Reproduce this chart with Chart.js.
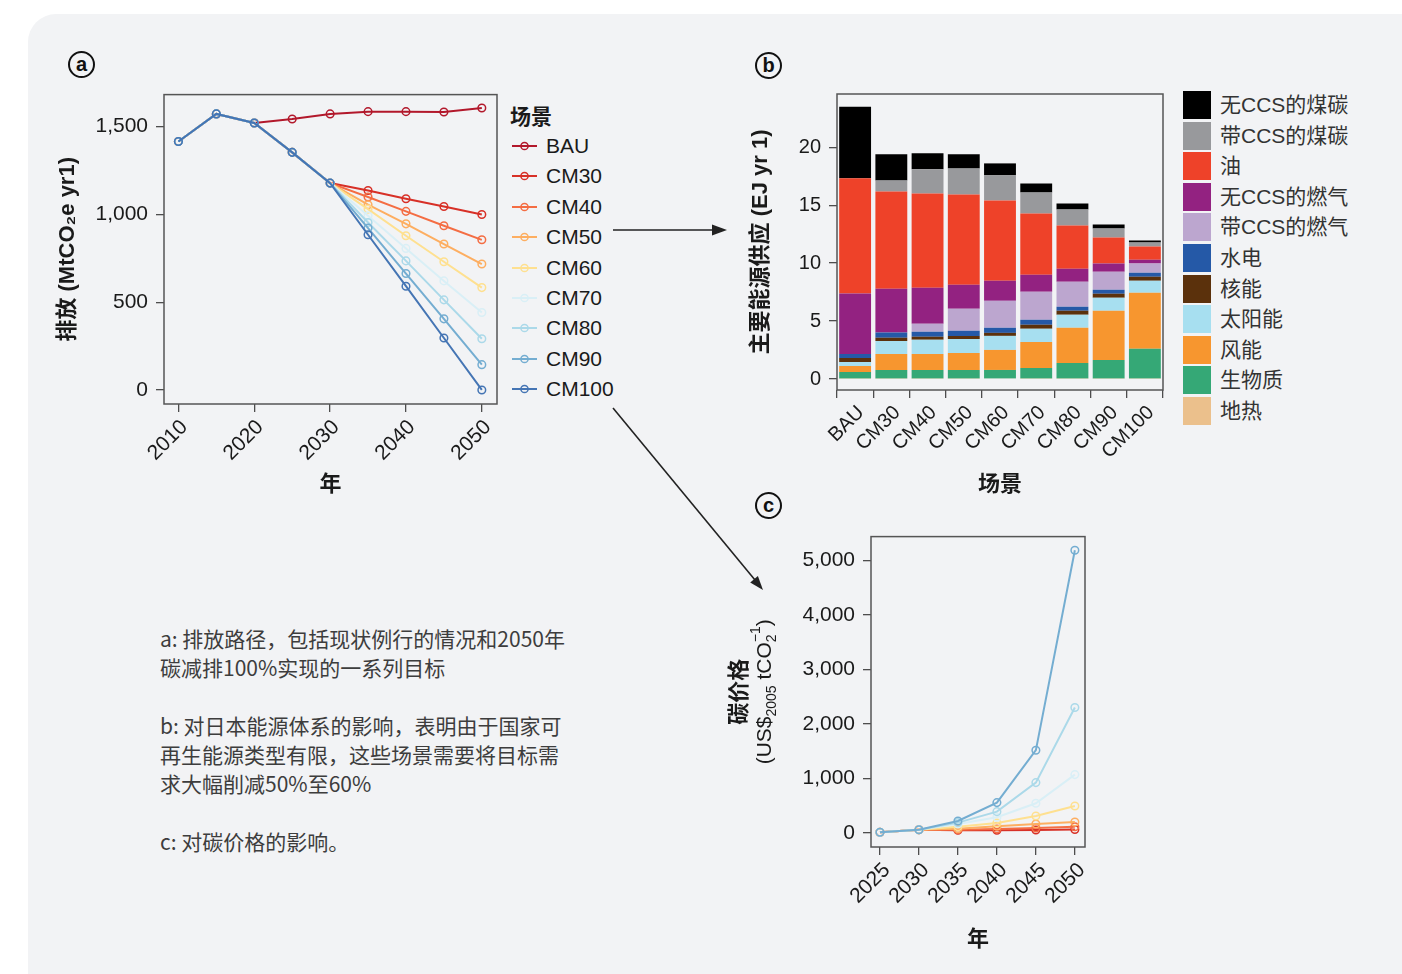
<!DOCTYPE html>
<html>
<head>
<meta charset="utf-8">
<script src="https://cdn.jsdelivr.net/npm/chart.js@4.4.1/dist/chart.umd.min.js"></script>
<style>
body { margin: 0; width: 1402px; height: 974px; overflow: hidden; background: #fff; position: relative;
       font-family: 'Liberation Sans', 'Noto Sans CJK SC', sans-serif; }
#bg { position: absolute; left: 28px; top: 14px; width: 1420px; height: 990px; background: #f2f3f5; border-radius: 28px; }
canvas { position: absolute; }
.tag { position: absolute; width: 23px; height: 23px; border: 2.5px solid #111; border-radius: 50%;
       font: bold 20px 'Liberation Sans', sans-serif; line-height: 22px; text-align: center; color: #111; }
.leg { position: absolute; color: #1a1a1a; white-space: nowrap; }
#notes { position: absolute; left: 160px; top: 624px; font: 21px 'Noto Sans CJK SC', sans-serif; line-height: 29px;
         color: #3d3d3d; white-space: pre; }
svg { position: absolute; left: 0; top: 0; }
</style>
</head>
<body>
<div id="bg"></div>
<div class="tag" style="left:68px;top:51px">a</div>
<div class="tag" style="left:755px;top:52px">b</div>
<div class="tag" style="left:755px;top:492px">c</div>

<canvas id="chartA" width="456" height="428" style="left:51px;top:74px"></canvas>
<canvas id="chartB" width="426" height="428" style="left:744px;top:74px"></canvas>
<canvas id="chartC" width="380" height="441" style="left:720px;top:516px"></canvas>

<div id="legA"></div>
<div id="legB"></div>

<div id="notes">a: 排放路径，包括现状例行的情况和2050年
碳减排100%实现的一系列目标

b: 对日本能源体系的影响，表明由于国家可
再生能源类型有限，这些场景需要将目标需
求大幅削减50%至60%

c: 对碳价格的影响。</div>

<svg width="1402" height="974">
  <line x1="613" y1="230" x2="714" y2="230" stroke="#222" stroke-width="1.6"/>
  <polygon points="727,230 712,224.5 712,235.5" fill="#222"/>
  <line x1="613" y1="408" x2="755" y2="580" stroke="#222" stroke-width="1.6"/>
  <polygon points="763,590 750.2,582.4 757.9,576" fill="#222"/>
</svg>

<script>
// scenarios and colours (shared by panels a and c)
var scenarios = ['BAU', 'CM30', 'CM40', 'CM50', 'CM60', 'CM70', 'CM80', 'CM90', 'CM100'];
var scenColors = ['#b2182b', '#d73027', '#f46d43', '#fdae61', '#fee090', '#d9eff6', '#abd9e9', '#74add1', '#4575b4'];

// panel a: emissions (MtCO2e/yr)
var years = [2010, 2015, 2020, 2025, 2030, 2035, 2040, 2045, 2050];
var emBAU   = [null, null, 1520, 1543, 1572, 1585, 1585, 1583, 1606];
var emCM30  = [1415, 1572, 1520, 1353, 1178, 1136, 1089, 1045, 999];
var emCM40  = [1415, 1572, 1520, 1353, 1178, 1099, 1017, 935, 855];
var emCM50  = [1415, 1572, 1520, 1353, 1178, 1055, 946, 831, 717];
var emCM60  = [1415, 1572, 1520, 1353, 1178, 1030, 878, 730, 583];
var emCM70  = [1415, 1572, 1520, 1353, 1178, 992, 806, 621, 441];
var emCM80  = [1415, 1572, 1520, 1353, 1178, 954, 735, 513, 292];
var emCM90  = [1415, 1572, 1520, 1353, 1178, 922, 663, 405, 144];
var emCM100 = [1415, 1572, 1520, 1353, 1178, 884, 591, 296, 0];
var yearTicks = [2010, 2020, 2030, 2040, 2050];
var emTicks = [0, 500, 1000, 1500];

// panel b: primary energy supply (EJ/yr)
var barCats    = ['BAU', 'CM30', 'CM40', 'CM50', 'CM60', 'CM70', 'CM80', 'CM90', 'CM100'];
var coalNoCCS  = [6.17, 2.25, 1.38, 1.21, 1.03, 0.78, 0.52, 0.34, 0.17];
var coalCCS    = [0, 0.95, 2.08, 2.25, 2.17, 1.81, 1.38, 0.78, 0.35];
var oil        = [9.93, 8.40, 8.14, 7.79, 6.93, 5.29, 3.73, 2.25, 1.13];
var gasNoCCS   = [5.23, 3.78, 3.12, 2.08, 1.73, 1.47, 1.12, 0.70, 0.34];
var gasCCS     = [0, 0, 0.69, 1.90, 2.33, 2.42, 2.17, 1.55, 0.78];
var hydro      = [0.34, 0.46, 0.43, 0.44, 0.44, 0.43, 0.34, 0.35, 0.35];
var nuclear    = [0.35, 0.26, 0.26, 0.26, 0.26, 0.35, 0.35, 0.35, 0.35];
var solar      = [0.34, 1.13, 1.22, 1.21, 1.21, 1.13, 1.12, 1.12, 1.03];
var wind       = [0.52, 1.38, 1.38, 1.47, 1.73, 2.25, 3.03, 4.24, 4.85];
var biomass    = [0.56, 0.73, 0.73, 0.73, 0.73, 0.90, 1.34, 1.60, 2.55];
var geothermal = [0.05, 0.05, 0.05, 0.05, 0.05, 0.05, 0.05, 0.05, 0.05];
var energyTicks = [0, 5, 10, 15, 20];

// panel c: carbon price (US$2005/tCO2)
var priceYears = [2025, 2030, 2035, 2040, 2045, 2050];
var priceCM30 = [15, 60, 50, 52, 55, 65];
var priceCM40 = [15, 60, 61, 74, 92, 116];
var priceCM50 = [15, 60, 80, 123, 165, 202];
var priceCM60 = [15, 60, 116, 184, 312, 496];
var priceCM70 = [15, 60, 165, 288, 545, 1072];
var priceCM80 = [15, 60, 190, 392, 925, 2304];
var priceCM90 = [15, 60, 221, 558, 1520, 5190];
var priceTicks = [0, 1000, 2000, 3000, 4000, 5000];

Chart.defaults.font.family = "'Liberation Sans', 'Noto Sans CJK SC', sans-serif";
Chart.defaults.font.size = 21;
Chart.defaults.color = '#1a1a1a';
Chart.defaults.animation = false;
Chart.defaults.plugins.legend.display = false;
Chart.defaults.plugins.tooltip.enabled = false;

function tickAt(list) {
    return function (s) { s.ticks = list.map(function (v) { return { value: v }; }); };
}
function fixW(w) { return function (s) { s.width = w; }; }
function fixH(h) { return function (s) { s.height = h; }; }
function commas(v) { return Number(v).toLocaleString('en-US'); }

var gridR = { drawOnChartArea: false, drawTicks: true, tickLength: 8, color: '#4d4d4d', lineWidth: 1.3 };
var titleFont = { size: 22, weight: 'bold' };

// R style box around the plot region
var boxPlugin = {
    id: 'box',
    afterDraw: function (chart) {
        var a = chart.chartArea, ctx = chart.ctx;
        ctx.save();
        ctx.strokeStyle = '#555';
        ctx.lineWidth = 1.5;
        ctx.strokeRect(a.left, a.top, a.right - a.left, a.bottom - a.top);
        ctx.restore();
    }
};

function lineSets(names, cols, series, xs) {
    return names.map(function (name, i) {
        return {
            label: name,
            data: xs.map(function (x, j) { return { x: x, y: series[i][j] }; }),
            borderColor: cols[i],
            pointBorderColor: cols[i],
            backgroundColor: 'transparent',
            pointBackgroundColor: 'transparent',
            pointRadius: 3.8,
            pointBorderWidth: 1.5,
            borderWidth: 2,
            order: -i
        };
    });
}

// ---------- panel a ----------
var emission = [emBAU, emCM30, emCM40, emCM50, emCM60, emCM70, emCM80, emCM90, emCM100];
new Chart(document.getElementById('chartA'), {
    type: 'line',
    data: { datasets: lineSets(scenarios, scenColors, emission, years) },
    options: {
        responsive: false,
        layout: { padding: { top: 0, right: 10, left: 0, bottom: 0 } },
        scales: {
            x: {
                type: 'linear', min: 2008.1, max: 2052,
                afterBuildTicks: tickAt(yearTicks),
                afterFit: fixH(98),
                grid: gridR, border: { display: false },
                ticks: { autoSkip: false, minRotation: 45, maxRotation: 45, padding: 3, labelOffset: 6,
                         callback: function (v) { return String(v); } },
                title: { display: true, text: '年', font: titleFont }
            },
            y: {
                min: -80, max: 1682,
                afterBuildTicks: tickAt(emTicks),
                afterFit: fixW(113),
                grid: gridR, border: { display: false },
                ticks: { padding: 8, callback: commas },
                title: { display: true, text: '排放 (MtCO₂e yr1)', font: titleFont }
            }
        }
    },
    plugins: [boxPlugin]
});

// ---------- panel b ----------
var energyNames  = ['地热', '生物质', '风能', '太阳能', '核能', '水电', '带CCS的燃气', '无CCS的燃气', '油', '带CCS的煤碳', '无CCS的煤碳'];
var energyColors = ['#ebc08c', '#35a876', '#f7962f', '#a7dff0', '#5b310c', '#2559a7', '#bca6cf', '#932281', '#ee4229', '#98999c', '#000000'];
var energyData   = [geothermal, biomass, wind, solar, nuclear, hydro, gasCCS, gasNoCCS, oil, coalCCS, coalNoCCS];

new Chart(document.getElementById('chartB'), {
    type: 'bar',
    data: {
        labels: barCats,
        datasets: energyNames.map(function (name, i) {
            return { label: name, data: energyData[i], backgroundColor: energyColors[i],
                     borderWidth: 0, barPercentage: 0.88, categoryPercentage: 1 };
        })
    },
    options: {
        responsive: false,
        layout: { padding: { top: 0, right: 7, left: 0, bottom: 0 } },
        scales: {
            x: {
                stacked: true,
                afterFit: fixH(112),
                grid: gridR, border: { display: false },
                ticks: { autoSkip: false, minRotation: 45, maxRotation: 45, padding: 3, labelOffset: 6,
                         font: { size: 20 } },
                title: { display: true, text: '场景', font: titleFont }
            },
            y: {
                stacked: true, min: -0.95, max: 24.6,
                afterBuildTicks: tickAt(energyTicks),
                afterFit: fixW(93),
                grid: gridR, border: { display: false },
                ticks: { padding: 8, font: { size: 20 } },
                title: { display: true, text: '主要能源供应 (EJ yr 1)', font: titleFont }
            }
        }
    },
    plugins: [boxPlugin]
});

// ---------- panel c ----------
var priceTitle = {
    id: 'priceTitle',
    afterDraw: function (chart) {
        var ctx = chart.ctx, a = chart.chartArea, cy = (a.top + a.bottom) / 2;
        ctx.save();
        ctx.fillStyle = '#1a1a1a';
        ctx.textBaseline = 'middle';
        ctx.textAlign = 'center';
        ctx.translate(18, cy);
        ctx.rotate(-Math.PI / 2);
        ctx.font = "bold 22px 'Noto Sans CJK SC'";
        ctx.fillText('碳价格', 0, 0);
        ctx.restore();

        var big = "21px 'Liberation Sans'", small = "14px 'Liberation Sans'";
        function w(t, f) { ctx.font = f; return ctx.measureText(t).width; }
        ctx.save();
        ctx.fillStyle = '#1a1a1a';
        ctx.textBaseline = 'middle';
        ctx.textAlign = 'left';
        ctx.translate(45, cy);
        ctx.rotate(-Math.PI / 2);
        var stackW = Math.max(w('2', small), w('−1', small));
        var total = w('(US$', big) + w('2005', small) + w(' tCO', big) + stackW + w(')', big);
        var x = -total / 2;
        ctx.font = big; ctx.fillText('(US$', x, 0); x += w('(US$', big);
        ctx.font = small; ctx.fillText('2005', x, 7); x += w('2005', small);
        ctx.font = big; ctx.fillText(' tCO', x, 0); x += w(' tCO', big);
        ctx.font = small; ctx.fillText('2', x, 7); ctx.fillText('−1', x, -9); x += stackW;
        ctx.font = big; ctx.fillText(')', x, 0);
        ctx.restore();
    }
};

var priceNames = scenarios.slice(1, 8);
var priceCols = scenColors.slice(1, 8);
var prices = [priceCM30, priceCM40, priceCM50, priceCM60, priceCM70, priceCM80, priceCM90];
new Chart(document.getElementById('chartC'), {
    type: 'line',
    data: { datasets: lineSets(priceNames, priceCols, prices, priceYears) },
    options: {
        responsive: false,
        layout: { padding: { top: 0, right: 15, left: 0, bottom: 0 } },
        scales: {
            x: {
                type: 'linear', min: 2023.85, max: 2051.3,
                afterBuildTicks: tickAt(priceYears),
                afterFit: fixH(110),
                grid: gridR, border: { display: false },
                ticks: { autoSkip: false, minRotation: 45, maxRotation: 45, padding: 3, labelOffset: 7,
                         callback: function (v) { return String(v); } },
                title: { display: true, text: '年', font: titleFont }
            },
            y: {
                min: -257, max: 5441,
                afterBuildTicks: tickAt(priceTicks),
                afterFit: fixW(151),
                grid: gridR, border: { display: false },
                ticks: { padding: 8, callback: commas }
            }
        }
    },
    plugins: [boxPlugin, priceTitle]
});

// ---------- legends ----------
var legA = document.getElementById('legA');
var html = '<div class="leg" style="left:510px;top:100px;font:bold 21px \'Noto Sans CJK SC\'">场景</div>';
scenarios.forEach(function (name, i) {
    var cy = 146 + i * 30.4;
    html += '<svg width="30" height="12" style="left:511px;top:' + (cy - 6) + 'px">' +
        '<line x1="1" y1="6" x2="26" y2="6" stroke="' + scenColors[i] + '" stroke-width="2"/>' +
        '<circle cx="13.5" cy="6" r="3.6" fill="none" stroke="' + scenColors[i] + '" stroke-width="1.5"/></svg>';
    html += '<div class="leg" style="left:546px;top:' + (cy - 12) + 'px;font-size:21px;line-height:24px">' + name + '</div>';
});
legA.innerHTML = html;

var legB = document.getElementById('legB');
html = '';
for (var k = energyNames.length - 1, r = 0; k >= 0; k--, r++) {
    var rowTop = 91 + r * 30.6;
    html += '<div style="position:absolute;left:1183px;top:' + rowTop + 'px;width:28px;height:28px;background:' + energyColors[k] + '"></div>';
    html += '<div class="leg" style="left:1220px;top:' + (rowTop + 1) + 'px;font:21px \'Liberation Sans\',\'Noto Sans CJK SC\';line-height:26px;color:#333">' + energyNames[k] + '</div>';
}
legB.innerHTML = html;
</script>
</body>
</html>
